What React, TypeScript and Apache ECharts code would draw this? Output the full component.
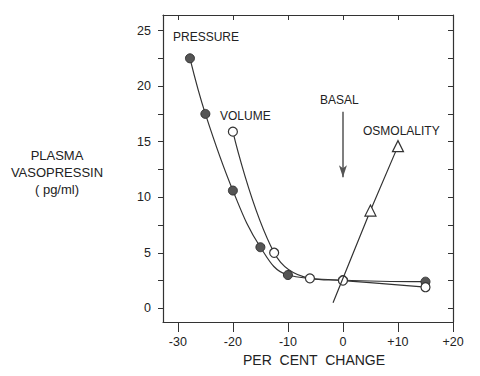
import React, { useEffect, useRef } from "react";
import * as echarts from "echarts";

const xTickValues = [-30, -20, -10, 0, 10, 20];
const xTickLabels = ["-30", "-20", "-10", "0", "+10", "+20"];
const yLabelValues = [0, 5, 10, 15, 20, 25];
const yTickValues = [0, 2.5, 5, 7.5, 10, 12.5, 15, 17.5, 20, 22.5, 25];

const pressureX = [-27.8, -25, -20, -15, -10, 0, 15];
const pressureY = [22.5, 17.5, 10.6, 5.5, 3.0, 2.55, 2.4];
const volumeX = [-20, -12.5, -6, 0, 15];
const volumeY = [15.9, 5.0, 2.7, 2.5, 1.9];
const osmolalityX = [-1.8, 5, 10];
const osmolalityY = [0.5, 8.8, 14.6];
const basalArrow = { x: 0, from: 17.7, to: 11.8 };

const INK = "#333";
const FONT = "'Liberation Sans', Arial, sans-serif";

export default function App() {
  const ref = useRef<HTMLDivElement>(null);
  useEffect(() => {
    if (!ref.current) return;
    const chart = echarts.init(ref.current, null, { renderer: "svg" });
    const xLabelMap: Record<string, string> = {};
    xTickValues.forEach((v, i) => (xLabelMap[String(v)] = xTickLabels[i]));

    const pressure = pressureX.map((x, i) => [x, pressureY[i]]);
    const volume = volumeX.map((x, i) => [x, volumeY[i]]);
    const osmo = osmolalityX.map((x, i) =>
      i === 0 ? { value: [x, osmolalityY[i]], symbol: "none" } : [x, osmolalityY[i]]
    );

    chart.setOption({
      animation: false,
      backgroundColor: "#fff",
      grid: { left: 163, right: 27, top: 15, bottom: 54 },
      xAxis: [
        {
          type: "value",
          min: -32.7,
          max: 20,
          position: "bottom",
          axisLine: { show: true, onZero: false, lineStyle: { color: INK, width: 1.2 } },
          axisTick: { show: true, length: 10, customValues: xTickValues, lineStyle: { color: INK } },
          axisLabel: {
            customValues: xTickValues,
            formatter: (v: number) => xLabelMap[String(v)] ?? "",
            color: "#222",
            fontSize: 12.5,
            fontFamily: FONT,
            margin: 13,
          },
          splitLine: { show: false },
        },
        {
          type: "value",
          min: -32.7,
          max: 20,
          position: "top",
          axisLine: { show: true, onZero: false, lineStyle: { color: INK, width: 1.2 } },
          axisTick: { show: true, inside: true, length: 5, customValues: xTickValues, lineStyle: { color: INK } },
          axisLabel: { show: false },
          splitLine: { show: false },
        },
      ],
      yAxis: [
        {
          type: "value",
          min: -1.23,
          max: 26.4,
          position: "left",
          axisLine: { show: true, onZero: false, lineStyle: { color: INK, width: 1.2 } },
          axisTick: { show: true, length: 5, customValues: yTickValues, lineStyle: { color: INK } },
          axisLabel: {
            customValues: yLabelValues,
            color: "#222",
            fontSize: 12.5,
            fontFamily: FONT,
            margin: 12,
          },
          splitLine: { show: false },
        },
        {
          type: "value",
          min: -1.23,
          max: 26.4,
          position: "right",
          axisLine: { show: true, onZero: false, lineStyle: { color: INK, width: 1.2 } },
          axisTick: { show: true, inside: true, length: 5, customValues: yTickValues, lineStyle: { color: INK } },
          axisLabel: { show: false },
          splitLine: { show: false },
        },
      ],
      series: [
        {
          type: "line",
          name: "PRESSURE",
          data: pressure,
          smooth: 0.4,
          symbol: "circle",
          symbolSize: 9,
          itemStyle: { color: "#555", borderColor: "#333", borderWidth: 1 },
          lineStyle: { color: INK, width: 1.2 },
          z: 3,
        },
        {
          type: "line",
          name: "VOLUME",
          data: volume,
          smooth: 0.4,
          symbol: "circle",
          symbolSize: 9,
          itemStyle: { color: "#fff", borderColor: "#333", borderWidth: 1.2 },
          lineStyle: { color: INK, width: 1.2 },
          z: 4,
          markLine: {
            silent: true,
            symbol: ["none", "arrow"],
            symbolSize: [6, 12],
            label: { show: false },
            lineStyle: { color: "#555", width: 1.5, type: "solid" },
            data: [[{ coord: [basalArrow.x, basalArrow.from] }, { coord: [basalArrow.x, basalArrow.to] }]],
          },
        },
        {
          type: "line",
          name: "OSMOLALITY",
          data: osmo,
          smooth: false,
          symbol: "triangle",
          symbolSize: 11,
          itemStyle: { color: "#fff", borderColor: "#333", borderWidth: 1.2 },
          lineStyle: { color: INK, width: 1.2 },
          z: 5,
        },
      ],
      graphic: [
        { type: "text", left: 173, top: 31, style: { text: "PRESSURE", font: `12px ${FONT}`, fill: "#222" } },
        { type: "text", left: 220, top: 110, style: { text: "VOLUME", font: `12px ${FONT}`, fill: "#222" } },
        { type: "text", left: 320, top: 94, style: { text: "BASAL", font: `12px ${FONT}`, fill: "#222" } },
        { type: "text", left: 363, top: 125, style: { text: "OSMOLALITY", font: `12px ${FONT}`, fill: "#222" } },
        {
          type: "text",
          x: 57,
          y: 147,
          style: {
            text: "PLASMA\nVASOPRESSIN\n( pg/ml)",
            font: `13px ${FONT}`,
            fill: "#222",
            align: "center",
            lineHeight: 17,
          },
        },
        {
          type: "text",
          x: 314,
          y: 353,
          style: { text: "PER  CENT  CHANGE", font: `14px ${FONT}`, fill: "#222", align: "center" },
        },
      ],
    });
    return () => chart.dispose();
  }, []);
  return (
    <div
      ref={ref}
      style={{ position: "fixed", left: 0, top: 0, width: 480, height: 376, background: "#fff" }}
    />
  );
}
